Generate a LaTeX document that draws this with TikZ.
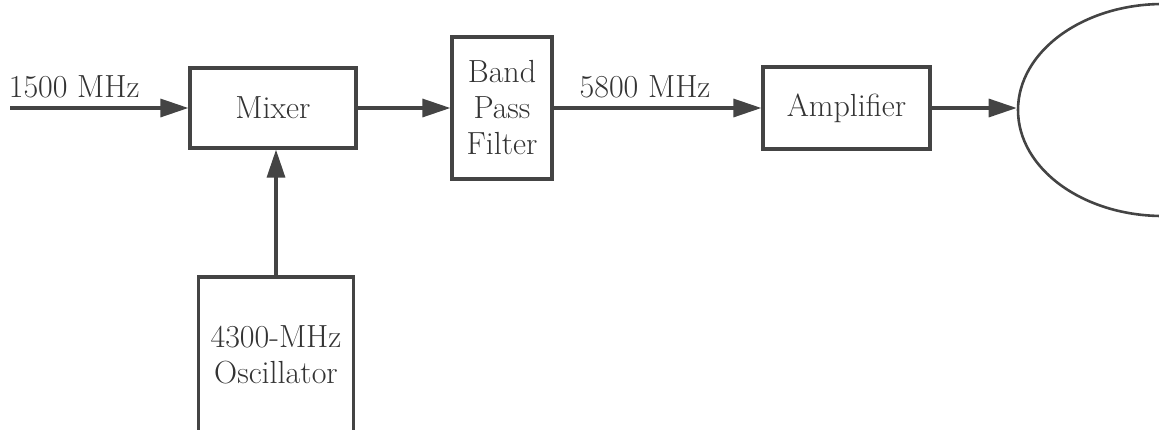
\documentclass[tikz,border=0pt]{standalone}
\usepackage{tikz}
\usetikzlibrary{arrows.meta,shapes.geometric}
\definecolor{ink}{HTML}{444444}
\definecolor{inktext}{HTML}{333333}

\begin{document}
\begin{tikzpicture}[
  x=0.5pt,y=-0.5pt,
  >={Triangle[length=14pt,width=9pt]},
  every node/.style={text=inktext,font=\fontsize{16}{18}\selectfont},
  block/.style={draw=ink,line width=1.6pt,inner sep=0pt,align=center},
  dish/.style={ellipse,draw=ink,line width=1.3pt,inner sep=0pt,minimum width=145pt,minimum height=106pt},
  flow/.style={->,draw=ink,line width=1.6pt},
  tag/.style={above=1pt}
]
  \useasboundingbox (0,0) rectangle (1159,429);
  \node[block,minimum width=83pt,minimum height=40pt] (mixer) at (273,108) {Mixer};
  \node[block,minimum width=50pt,minimum height=71pt] (bpf) at (502,108) {Band\\Pass\\Filter};
  \node[block,minimum width=83.5pt,minimum height=41pt] (amp) at (846.5,108) {Amplifier};
  \node[block,minimum width=77.5pt,minimum height=78pt] (osc) at (276,355) {4300-MHz\\Oscillator};
  \node[dish] (ant) at (1163,110) {};
  \coordinate (in) at (10,108);

  \draw[flow] (in) -- node[tag,pos=0.36] (inlbl) {1500 MHz} (mixer);
  \draw[flow] (mixer) -- (bpf);
  \draw[flow] (bpf) -- node[tag,pos=0.44] (outlbl) {5800 MHz} (amp);
  \draw[flow] (amp) -- (amp -| ant.west);
  \draw[flow] (osc.north) -- (osc.north |- mixer.south);
\end{tikzpicture}
\end{document}
